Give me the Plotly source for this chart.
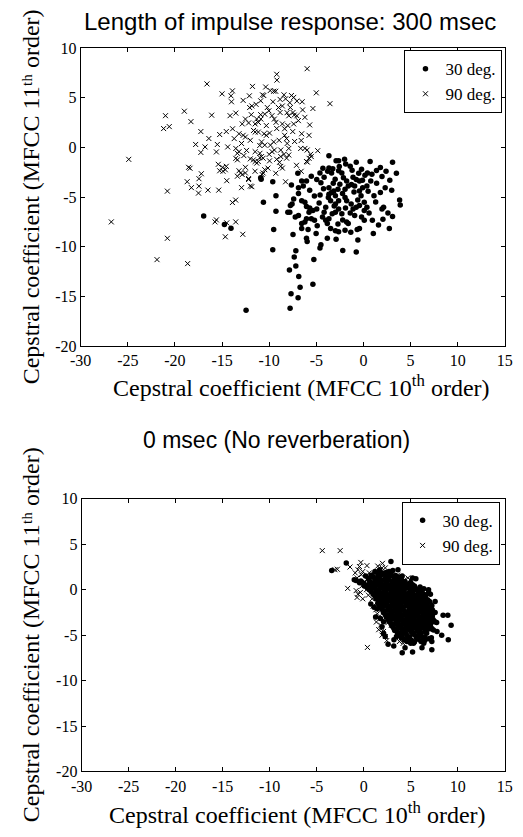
import plotly.graph_objects as go

# ---------------- data ----------------
x_ticks = [-30, -25, -20, -15, -10, -5, 0, 5, 10, 15]
x_tick_text = ["-30", "-25", "-20", "-15", "-10", "-5", "0", "5", "10", "15"]
y_ticks = [-20, -15, -10, -5, 0, 5, 10]
y_tick_text = ["-20", "-15", "-10", "-5", "0", "5", "10"]
series_names = ["30 deg.", "90 deg."]

# Top plot (300 msec), 90 deg.
top_pts_90 = [
    (-24.9, -1.2), (-21.2, 1.9), (-20.6, 2.1), (-21.0, 3.2), (-19.0, 3.65), (-18.3, 2.6), (-16.6, 6.4),
    (-16.1, 3.25), (-17.25, 1.6), (-17.8, 0.3), (-17.25, -0.5), (-16.8, 0.05), (-16.4, 0.9), (-15.6, -0.45),
    (-15.5, 0.3), (-15.25, 1.3), (-15.0, 5.4), (-14.55, 1.6), (-14.4, 0.05), (-14.15, 3.2), (-14.05, 5.2),
    (-13.9, 5.7), (-14.0, 4.6),
    (-18.55, -2.0), (-18.4, -2.1), (-18.7, -3.45), (-18.25, -4.05), (-17.45, -3.9), (-17.45, -3.15),
    (-17.2, -2.65), (-17.5, -4.6), (-16.5, -4.3), (-15.4, -1.7), (-15.25, -2.35), (-14.9, -2.4),
    (-14.65, -2.25), (-14.55, -1.9), (-14.95, -2.0), (-14.5, -3.35), (-15.35, -4.3), (-20.8, -4.4),
    (-26.75, -7.5), (-20.8, -9.15), (-21.9, -11.3), (-18.65, -11.7), (-15.75, -7.5), (-15.6, -7.3),
    (-14.65, -9.0), (-14.5, -7.6), (-13.9, -5.55), (-13.55, -5.3), (-13.55, -7.5), (-12.8, -8.75),
    (-5.97, 7.93), (-9.2, 7.37), (-9.18, 6.78), (-3.55, 4.41), (-11.77, 6.15), (-10.37, 6.09), (-9.89, 5.73),
    (-9.52, 5.66), (-9.31, 5.66), (-10.71, 5.3), (-10.57, 5.23), (-8.43, 5.3), (-8.26, 4.9), (-8.84, 4.84),
    (-7.64, 5.23), (-7.4, 5.04), (-7.06, 4.67), (-7.81, 4.51), (-12.76, 4.74), (-12.07, 4.02), (-11.84, 4.18),
    (-11.39, 4.34), (-10.2, 4.02), (-10.03, 3.69), (-10.47, 3.36), (-9.01, 4.02), (-8.84, 3.52), (-8.6, 4.18),
    (-7.75, 4.02), (-7.47, 3.52), (-7.34, 3.26), (-7.92, 3.19), (-7.06, 3.19), (-6.45, 3.78), (-6.21, 3.03),
    (-5.36, 3.92), (-13.54, 3.46), (-12.52, 2.86), (-12.86, 2.37), (-12.18, 2.47), (-11.32, 2.86),
    (-11.15, 2.53), (-11.49, 2.37), (-10.88, 2.86), (-9.45, 2.86), (-9.28, 2.53), (-8.6, 2.37), (-8.02, 2.2),
    (-7.4, 2.37), (-8.36, 1.88), (-5.7, 2.27), (-6.55, 1.38), (-5.77, 1.22), (-4.85, -0.33), (-6.21, -0.1),
    (-5.97, -0.26), (-6.65, -0.1), (-13.88, 1.88), (-13.2, 1.38), (-12.76, 1.22), (-12.52, 1.05),
    (-13.71, 0.89), (-12.93, 0.4), (-12.0, 0.72), (-11.66, 1.71), (-11.49, 1.55), (-11.15, 1.55),
    (-10.54, 1.38), (-10.3, 1.22), (-9.96, 1.45), (-10.81, 0.56), (-10.47, 0.23), (-9.86, 0.23),
    (-9.52, 0.56), (-8.94, 0.72), (-8.36, 1.22), (-8.15, 0.89), (-8.09, 0.4), (-7.92, -0.1), (-8.77, -0.26),
    (-9.45, -0.26), (-9.69, -0.43), (-8.43, -0.69), (-13.54, -0.1), (-13.2, -0.43), (-13.37, -0.59),
    (-13.54, -1.1), (-13.37, -1.25), (-13.2, -2.35), (-13.03, -2.57), (-13.37, -2.9), (-12.86, -2.73),
    (-12.52, -2.0), (-12.52, -2.57), (-12.18, -3.13), (-12.93, -4.05), (-12.0, -3.89), (-11.84, -3.95),
    (-12.0, -1.15), (-11.67, -1.25), (-11.49, -1.42), (-11.32, -1.58), (-11.15, -1.42), (-10.98, -1.02),
    (-10.81, -0.92), (-10.13, -2.08), (-10.64, -2.57), (-10.47, -2.24), (-9.96, -1.35), (-8.77, -1.91),
    (-8.6, -2.08), (-8.77, -0.92), (-8.26, -3.46), (-7.92, -0.76), (-6.04, -1.42), (-5.77, -1.09),
    (-5.53, -0.92), (-10.74, -2.73), (-12.18, -3.23), (-11.49, -0.43), (-10.98, -0.59), (-10.64, -1.08),
    (-12.69, -0.82), (-8.15, -1.08), (-5.94, -1.48), (-5.6, -0.69),
    (-10.9, 3.3), (-11.9, 3.3), (-9.7, 3.2), (-9.2, 1.9), (-10.3, 2.2), (-6.9, 2.7), (-6.6, 0.7), (-7.3, 0.6),
    (-7.5, 1.6), (-11.0, 0.2), (-12.4, -0.3), (-9.2, -1.2), (-10.0, -0.7), (-9.3, -2.6), (-11.5, -2.4),
    (-12.1, 5.2), (-10.9, 4.7), (-9.6, 4.6), (-8.1, 3.5), (-6.5, 4.6), (-5.0, 5.5), (-8.9, -1.5), (-7.1, -1.8),
    (-6.6, -2.4),
]

# Top plot (300 msec), 30 deg.
top_pts_30 = [
    (-16.95, -6.9), (-14.75, -7.75), (-14.05, -8.15), (-10.9, -3.05), (-10.85, -3.2),
    (-3.66, -0.83), (-2.9, -1.35), (-2.63, -1.35), (-1.88, -1.68), (-0.76, -1.48), (0.71, -1.42),
    (3.09, -1.48), (3.5, -2.6), (1.8, -2.01), (1.39, -2.31), (1.97, -2.93), (2.31, -4.05), (1.8, -4.54),
    (1.12, -4.87), (0.43, -2.57), (0.16, -2.8), (0.78, -3.39), (0.37, -3.89), (-0.08, -4.05), (-0.42, -3.39),
    (-0.76, -3.23), (-1.1, -3.0), (-1.27, -3.72), (-0.93, -3.89), (-0.42, -4.38), (-0.25, -4.87),
    (0.09, -5.53), (0.37, -6.02), (0.09, -6.35), (-0.42, -5.86), (-0.76, -6.02), (-1.1, -6.19),
    (-0.93, -6.85), (-0.42, -8.16), (0.09, -7.34), (0.95, -7.34), (1.05, -8.66), (2.07, -7.24),
    (2.75, -8.16), (3.09, -6.95), (3.84, -5.3), (3.91, -5.79), (2.14, -6.02), (1.97, -6.19),
    (-2.56, -1.91), (-3.25, -2.14), (-3.66, -2.08), (-3.79, -2.41), (-3.38, -2.57), (-2.63, -2.34),
    (-2.29, -2.57), (-2.12, -3.06), (-1.78, -3.39), (-1.61, -3.89), (-1.95, -4.21), (-2.22, -4.64),
    (-1.95, -5.04), (-1.78, -5.37), (-2.63, -5.37), (-2.97, -4.87), (-3.14, -4.38), (-3.66, -4.71),
    (-3.72, -5.04), (-3.48, -5.37), (-2.97, -5.7), (-2.63, -6.19), (-3.31, -6.68), (-3.66, -7.18),
    (-4.0, -7.34), (-3.48, -8.16), (-2.97, -8.39), (-2.63, -8.49), (-1.95, -8.33), (-1.61, -7.67),
    (-1.78, -7.51), (-1.34, -8.53), (-0.66, -8.26), (-2.97, -6.52), (-2.29, -6.68), (-4.0, -6.02),
    (-4.17, -6.52), (-4.34, -7.01), (-3.83, -7.67), (-4.61, -2.57), (-4.17, -3.0), (-4.95, -3.23),
    (-4.51, -3.56), (-4.23, -4.15), (-3.66, -4.05), (-3.38, -4.54), (-5.53, -2.9), (-6.04, -3.39),
    (-6.55, -3.39), (-6.38, -3.89), (-6.89, -4.05), (-6.89, -4.64), (-7.4, -5.2), (-7.57, -5.7),
    (-7.75, -5.86), (-7.81, -6.52), (-7.23, -7.01), (-6.89, -6.85), (-6.55, -5.37), (-6.21, -5.53),
    (-6.04, -5.96), (-5.7, -6.09), (-5.53, -7.18), (-5.19, -7.34), (-4.95, -6.19), (-5.36, -6.35),
    (-5.77, -6.52), (-6.04, -7.18), (-6.21, -7.51), (-6.55, -7.67), (-6.55, -8.16), (-5.87, -8.26),
    (-6.04, -9.15), (-5.97, -9.48), (-5.02, -8.66), (-4.51, -9.81), (-4.61, -10.14), (-3.83, -9.15),
    (-2.9, -9.25), (-2.19, -10.37), (-0.76, -10.53), (-0.59, -9.32), (-6.96, -2.6), (-7.64, -3.79),
    (-9.62, -3.46), (-9.28, -4.87), (-10.61, -5.53), (-9.28, -6.42), (-9.52, -8.26), (-9.62, -10.3),
    (-7.47, -8.76), (-7.17, -10.4), (-7.34, -11.03), (-7.17, -11.95), (-7.85, -12.34), (-6.86, -13.0),
    (-6.72, -14.09), (-7.68, -14.74), (-6.93, -15.14), (-7.78, -16.19), (-5.36, -13.79), (-5.26, -11.29),
    (-12.45, -16.39), (-8.02, -6.52),
    (-3.0, -3.2), (-2.5, -3.7), (-1.2, -2.3), (-0.5, -2.6), (0.9, -2.7), (1.4, -3.6), (-0.1, -3.3),
    (-3.2, -3.6), (-2.7, -4.2), (-1.0, -4.5), (-0.6, -5.3), (0.5, -4.4), (1.3, -5.5), (0.6, -6.6),
    (-1.4, -6.6), (-2.2, -7.3), (-2.7, -7.7), (-3.1, -5.9), (-4.7, -5.6), (-5.2, -4.9), (-4.6, -4.8),
    (-5.7, -4.3), (-1.3, -5.7), (-1.9, -6.1), (1.6, -7.8), (2.6, -6.6), (3.0, -4.3), (2.8, -3.3),
    (-0.2, -7.0), (-4.9, -7.9), (-2.0, -1.2), (-1.4, -1.9), (-0.2, -2.2), (2.4, -2.4), (-4.3, -2.1),
]

# Bottom plot (0 msec), 30 deg.
bot_pts_30 = [
    (-3.4, 2.1), (-1.85, 2.95), (2.9, 3.1), (3.65, 2.2), (5.2, 1.3), (5.55, 1.2), (-1.0, 1.1), (-0.8, 1.0),
    (8.45, -2.8), (8.95, -2.8), (9.3, -3.9), (9.0, -5.5), (5.0, -5.9), (5.3, -5.9), (6.2, -6.4), (7.25, -6.6),
    (4.1, -6.95), (5.2, -6.85), (7.6, -1.3), (7.1, -0.5), (6.9, 0.0), (8.3, -5.0), (7.8, -4.6), (7.2, -5.3),
    (6.5, -5.6), (3.2, -6.2), (2.6, -6.0), (4.4, -6.4),
    (-0.44, 0.77), (0.07, 0.41), (0.76, 0.41), (1.27, 0.41), (0.76, -1.57), (1.1, -1.93), (1.44, -2.1),
    (2.12, -2.46), (2.46, -2.82), (1.27, -3.0), (1.78, -3.18), (2.12, -3.54), (1.95, -4.08), (6.91, -0.31),
    (6.39, -0.49), (6.05, -1.03), (6.56, -0.85), (7.25, -1.75), (6.91, -2.28), (7.42, -2.46), (6.56, -2.82),
    (7.59, -3.54), (7.76, -3.61), (7.25, -4.26), (7.42, -4.44), (6.91, -3.72), (6.56, -3.9), (6.22, -4.08),
    (7.25, -5.7), (6.91, -5.41), (6.39, -5.88), (3.49, -5.16), (3.22, -5.52), (4.51, -5.52), (2.12, -4.8),
    (2.29, -5.16),
    (1.2, 2.0), (2.4, 1.9), (3.1, 2.1), (1.7, 2.2),
    (0.2, 1.5), (1.0, 1.4), (1.9, 1.6), (2.7, 1.45), (3.4, 1.55), (4.1, 1.5), (2.3, 1.2),
    (-0.3, 0.95), (0.6, 1.0), (1.5, 0.9), (2.2, 1.05), (3.0, 0.95), (3.7, 1.1), (4.4, 0.9), (5.0, 0.8),
    (0.3, 0.5), (1.1, 0.45), (1.8, 0.6), (2.6, 0.5), (3.3, 0.55), (4.0, 0.45), (4.7, 0.6), (5.4, 0.4), (6.0, 0.3),
    (0.6, 0.0), (1.4, -0.05), (2.1, 0.1), (2.9, 0.0), (3.6, 0.05), (4.3, -0.1), (5.0, 0.1), (5.7, -0.05), (6.4, 0.1),
    (1.0, -0.5), (1.7, -0.45), (2.5, -0.55), (3.2, -0.4), (3.9, -0.5), (4.7, -0.45), (5.4, -0.6), (6.1, -0.5),
    (1.3, -1.0), (2.0, -1.05), (2.7, -0.95), (3.5, -1.0), (4.2, -1.1), (4.9, -0.95), (5.7, -1.05), (6.4, -1.2),
    (1.5, -1.5), (2.3, -1.55), (3.0, -1.45), (3.8, -1.6), (4.5, -1.5), (5.2, -1.45), (5.9, -1.6), (6.7, -1.5),
    (1.8, -2.0), (2.6, -1.95), (3.4, -2.05), (4.1, -2.0), (4.9, -2.1), (5.6, -1.95), (6.3, -2.05), (7.0, -2.1),
    (2.1, -2.5), (2.9, -2.55), (3.6, -2.45), (4.4, -2.6), (5.2, -2.5), (5.9, -2.45), (6.6, -2.6), (7.6, -2.5),
    (2.4, -3.0), (3.2, -3.05), (3.9, -2.95), (4.7, -3.1), (5.4, -3.0), (6.2, -3.05), (6.9, -3.0),
    (2.7, -3.5), (3.5, -3.45), (4.2, -3.6), (5.0, -3.5), (5.8, -3.55), (6.5, -3.45), (7.2, -3.6),
    (3.0, -4.0), (3.7, -4.1), (4.5, -3.95), (5.3, -4.05), (6.0, -4.0), (6.8, -4.1),
    (3.3, -4.5), (4.1, -4.55), (4.9, -4.45), (5.7, -4.5), (6.5, -4.6),
    (3.9, -5.0), (4.6, -5.05), (5.4, -4.95), (6.1, -5.1),
    (4.3, -5.5), (5.1, -5.6), (5.8, -5.45),
    (1.5, 1.75), (2.9, 1.75), (0.5, 1.25), (1.3, 1.2), (2.6, 1.25), (3.3, 1.3), (4.0, 1.2), (0.0, 0.7),
    (0.9, 0.75), (1.6, 0.7), (2.4, 0.8), (3.1, 0.75), (3.9, 0.8), (4.5, 0.2), (5.2, 0.55), (0.9, 0.25),
    (1.8, 0.25), (2.5, 0.2), (3.3, 0.25), (4.0, 0.3), (4.8, 0.25), (5.5, 0.15), (6.2, -0.2), (1.3, -0.3),
    (2.1, -0.25), (2.9, -0.3), (3.6, -0.25), (4.3, -0.3), (5.1, -0.25), (5.8, -0.3), (6.6, -0.6), (1.6, -0.75),
    (2.4, -0.8), (3.1, -0.75), (3.9, -0.8), (4.6, -0.75), (5.3, -0.85), (6.0, -0.8), (1.9, -1.3), (2.6, -1.25),
    (3.4, -1.3), (4.1, -1.35), (4.9, -1.25), (5.6, -1.3), (6.3, -1.35), (7.0, -1.3), (2.2, -1.75), (2.9, -1.8),
    (3.7, -1.75), (4.5, -1.8), (5.2, -1.75), (6.0, -1.8), (6.7, -1.85), (2.5, -2.25), (3.2, -2.3), (4.0, -2.25),
    (4.8, -2.3), (5.5, -2.25), (6.2, -2.3), (7.0, -2.35), (2.7, -2.8), (3.5, -2.75), (4.3, -2.8), (5.0, -2.75),
    (5.8, -2.8), (6.6, -2.75), (7.3, -2.9), (3.0, -3.25), (3.8, -3.3), (4.6, -3.25), (5.4, -3.3), (6.2, -3.25),
    (6.9, -3.3), (3.3, -3.75), (4.1, -3.8), (4.9, -3.75), (5.7, -3.8), (6.4, -3.75), (7.1, -3.85), (3.6, -4.25),
    (4.4, -4.3), (5.2, -4.25), (6.0, -4.3), (6.8, -4.35), (3.7, -4.75), (4.5, -4.8), (5.3, -4.75), (6.1, -4.8),
    (4.0, -5.3), (4.8, -5.25), (5.6, -5.3), (6.3, -5.3),
    (0.4, 0.2), (1.2, 0.15), (2.0, 0.35), (2.8, 0.3), (3.7, 0.35), (4.6, 0.4), (5.3, -0.1), (6.0, -0.1),
    (0.8, -0.2), (1.6, -0.2), (2.4, -0.1), (3.3, -0.15), (4.0, -0.05), (4.9, -0.2),
    (1.2, -0.7), (2.0, -0.65), (2.8, -0.7), (3.5, -0.65), (4.3, -0.7), (5.0, -0.65), (5.7, -0.7), (6.4, -0.85),
    (1.6, -1.2), (2.3, -1.15), (3.1, -1.2), (3.8, -1.25), (4.6, -1.2), (5.3, -1.15), (6.1, -1.2), (6.8, -1.1),
    (1.7, -1.75), (2.5, -1.7), (3.2, -1.7), (4.0, -1.75), (4.8, -1.7), (5.5, -1.65), (6.3, -1.75), (7.2, -1.8),
    (2.0, -2.2), (2.8, -2.2), (3.6, -2.2), (4.3, -2.3), (5.1, -2.2), (5.8, -2.2), (6.6, -2.25), (7.3, -2.2),
    (2.3, -2.75), (3.1, -2.8), (3.9, -2.7), (4.7, -2.7), (5.5, -2.7), (6.3, -2.75), (7.0, -2.7),
    (2.6, -3.25), (3.4, -3.2), (4.2, -3.3), (5.1, -3.25), (5.9, -3.2), (6.6, -3.2), (7.4, -3.3),
    (2.9, -3.75), (3.7, -3.8), (4.6, -3.7), (5.4, -3.75), (6.2, -3.7), (6.9, -3.8),
    (3.2, -4.25), (4.0, -4.2), (4.8, -4.2), (5.6, -4.25), (6.4, -4.2), (7.1, -4.3),
    (3.6, -4.7), (4.3, -4.75), (5.1, -4.7), (5.9, -4.7), (6.7, -4.8),
    (4.1, -5.2), (4.9, -5.2), (5.7, -5.15), (6.5, -5.2),
    (4.6, -5.7), (5.4, -5.75), (6.1, -5.7),
    (0.6, 0.6), (1.4, 0.6), (2.2, 0.55), (3.0, 0.6), (3.8, 0.65), (4.4, 0.65), (1.2, 1.0), (1.9, 1.0),
    (2.6, 1.0), (3.4, 1.0), (4.1, 0.95), (0.8, 1.6), (1.6, 1.45), (2.4, 1.5), (3.1, 1.5), (3.8, 1.4),
    (2.0, 1.85), (2.7, 2.0),
]

# Bottom plot (0 msec), 90 deg.
bot_pts_90 = [
    (-4.4, 4.3), (-2.5, 4.3), (-3.05, 2.2), (-2.8, 2.25), (-1.45, 2.5), (-0.3, 3.0), (-0.45, 2.55), (0.35, 2.65),
    (-0.6, 2.2), (-0.1, 2.0), (-0.9, 1.85), (-0.7, 1.3), (-0.25, 1.65), (-1.7, 0.15), (-0.8, -0.1), (-0.6, -0.5),
    (-0.7, -0.85), (-0.1, -1.0), (-0.35, -0.3), (0.6, 1.85), (0.75, 1.5), (0.4, 1.1), (1.1, 1.7), (1.95, 2.4),
    (2.3, 2.4), (2.1, 1.9), (2.6, 1.7), (1.8, 1.3), (1.4, 0.8), (4.7, 1.3), (4.95, 1.1), (4.35, 1.1),
    (1.45, -2.65), (1.6, -3.0), (1.35, -3.55), (1.8, -3.9), (1.95, -4.25), (1.6, -4.4), (2.1, -4.6),
    (2.3, -5.15), (2.45, -5.6), (1.95, -5.0), (2.6, -3.6), (2.95, -3.9), (0.4, -6.35), (3.8, -5.7), (4.0, -5.3),
    (4.2, -5.9), (3.5, -0.7), (3.8, -1.05), (3.3, -1.4), (6.6, -1.4), (7.1, -1.6), (7.25, -2.8), (0.2, 0.5),
    (0.8, 0.2), (1.2, -0.3), (1.9, 0.1), (2.5, 0.6), (3.0, 0.2), (0.9, -1.0), (1.6, -1.5), (2.2, -1.0),
    (2.8, -0.5), (3.1, -2.0), (2.4, -2.3), (1.1, 1.0), (0.1, 0.9), (3.6, 1.6), (4.1, 0.4), (4.5, -0.5),
    (5.0, -1.0), (5.5, -2.0), (4.8, -2.5), (4.0, -3.0), (3.4, -3.2), (5.6, -3.6), (6.0, -4.2), (5.2, -4.6),
    (4.6, -4.0), (6.3, -2.6), (5.9, -0.2), (2.0, 2.9), (1.5, 2.6), (-0.2, 0.4), (0.5, -0.6), (1.0, -1.8),
    (1.3, -2.2), (0.3, 0.0),
]

top_x30 = [p[0] for p in top_pts_30]
top_y30 = [p[1] for p in top_pts_30]
top_x90 = [p[0] for p in top_pts_90]
top_y90 = [p[1] for p in top_pts_90]
bot_x30 = [p[0] for p in bot_pts_30]
bot_y30 = [p[1] for p in bot_pts_30]
bot_x90 = [p[0] for p in bot_pts_90]
bot_y90 = [p[1] for p in bot_pts_90]

# ---------------- styling ----------------
W, H = 523, 837
SERIF = "Liberation Serif, Times New Roman, serif"
SANS = "Liberation Sans, Arial, sans-serif"

dot = dict(symbol="circle", size=5.5, color="black", line=dict(width=0))
cross = dict(symbol="x-thin", size=5, color="black", line=dict(width=1, color="black"))

fig = go.Figure()
fig.add_trace(go.Scatter(x=top_x30, y=top_y30, mode="markers", marker=dot, name=series_names[0],
                         xaxis="x", yaxis="y", legend="legend"))
fig.add_trace(go.Scatter(x=top_x90, y=top_y90, mode="markers", marker=cross, name=series_names[1],
                         xaxis="x", yaxis="y", legend="legend"))
fig.add_trace(go.Scatter(x=bot_x30, y=bot_y30, mode="markers", marker=dot, name=series_names[0],
                         xaxis="x2", yaxis="y2", legend="legend2"))
fig.add_trace(go.Scatter(x=bot_x90, y=bot_y90, mode="markers", marker=cross, name=series_names[1],
                         xaxis="x2", yaxis="y2", legend="legend2"))

def px_x(p):
    return p / W

def px_y(p):
    return 1 - p / H

axis_common = dict(showline=True, linecolor="black", linewidth=1, mirror="ticks", ticks="inside",
                   ticklen=4, tickcolor="black", tickwidth=1, showgrid=False, zeroline=False,
                   tickfont=dict(family=SERIF, size=16, color="black"))

legend_common = dict(xanchor="right", yanchor="top", bgcolor="white", bordercolor="black", borderwidth=1,
                     font=dict(family=SERIF, size=17, color="black"), itemsizing="trace",
                     tracegroupgap=0, itemwidth=30)

fig.update_layout(
    width=W, height=H, margin=dict(l=0, r=0, t=0, b=0),
    paper_bgcolor="white", plot_bgcolor="white", showlegend=True,
    xaxis=dict(domain=[px_x(72.3), px_x(512.4)], range=[-30, 15], tickvals=x_ticks, ticktext=x_tick_text,
               anchor="y", **axis_common),
    yaxis=dict(domain=[px_y(345), px_y(41)], range=[-20, 10], tickvals=y_ticks, ticktext=y_tick_text,
               anchor="x", **axis_common),
    xaxis2=dict(domain=[px_x(73.3), px_x(512.3)], range=[-30, 15], tickvals=x_ticks, ticktext=x_tick_text,
                anchor="y2", **axis_common),
    yaxis2=dict(domain=[px_y(779.3), px_y(501)], range=[-20, 10], tickvals=y_ticks, ticktext=y_tick_text,
                anchor="x2", **axis_common),
    legend=dict(x=px_x(510), y=px_y(43), **legend_common),
    legend2=dict(x=px_x(507), y=px_y(504), **legend_common),
)

ann = []
ann.append(dict(text="Length of impulse response: 300 msec", x=px_x(290), y=px_y(14), xref="paper", yref="paper",
                showarrow=False, font=dict(family=SANS, size=24, color="black"), xanchor="center", yanchor="middle"))
ann.append(dict(text="0 msec (No reverberation)", x=px_x(276), y=px_y(441), xref="paper", yref="paper",
                showarrow=False, font=dict(family=SANS, size=23, color="black"), xanchor="center", yanchor="middle"))
xtitle = "Cepstral coefficient (MFCC 10<sup>th</sup> order)"
ytitle = "Cepstral coefficient (MFCC 11\u1d57\u02b0 order)"
ann.append(dict(text=xtitle, x=px_x(301), y=px_y(386), xref="paper", yref="paper", showarrow=False,
                font=dict(family=SERIF, size=24, color="black"), xanchor="center", yanchor="middle"))
ann.append(dict(text=xtitle, x=px_x(297), y=px_y(822), xref="paper", yref="paper", showarrow=False,
                font=dict(family=SERIF, size=24, color="black"), xanchor="center", yanchor="middle"))
ann.append(dict(text=ytitle, x=px_x(21), y=px_y(193), xref="paper", yref="paper", showarrow=False, textangle=-90,
                font=dict(family=SERIF, size=24, color="black"), xanchor="center", yanchor="middle"))
ann.append(dict(text=ytitle, x=px_x(21), y=px_y(640), xref="paper", yref="paper", showarrow=False, textangle=-90,
                font=dict(family=SERIF, size=24, color="black"), xanchor="center", yanchor="middle"))
fig.update_layout(annotations=ann)

fig.write_html("out.html")
